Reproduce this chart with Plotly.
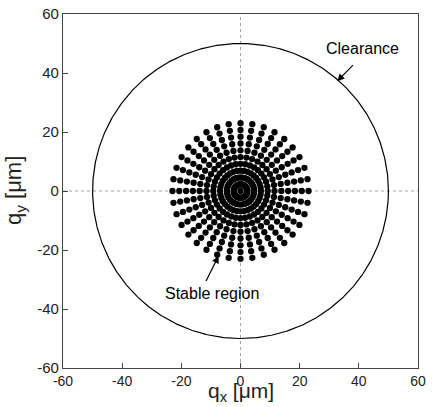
import numpy as np
import plotly.graph_objects as go

# Stable-region scan: amplitudes (µm) and launch angles (deg)
amplitudes = [2.3, 4.6, 6.9, 9.2, 11.5, 13.8, 16.1, 18.4, 20.7, 23.0]
angles_deg = [0, 10, 20, 30, 40, 50, 60, 70, 80, 90, 100, 110, 120, 130, 140, 150, 160, 170,
              180, 190, 200, 210, 220, 230, 240, 250, 260, 270, 280, 290, 300, 310, 320, 330, 340, 350]
center_point = [0.0, 0.0]
clearance_radius = 50.0
tick_vals = [-60, -40, -20, 0, 20, 40, 60]
tick_text = ["-60", "-40", "-20", "0", "20", "40", "60"]

xs = [center_point[0]]
ys = [center_point[1]]
for r in amplitudes:
    for a in angles_deg:
        t = np.deg2rad(a)
        xs.append(r * np.cos(t))
        ys.append(r * np.sin(t))

theta = np.linspace(0, 2 * np.pi, 721)
cx = clearance_radius * np.cos(theta)
cy = clearance_radius * np.sin(theta)

fig = go.Figure()
# dotted axes lines
fig.add_trace(go.Scatter(x=[-60, 60], y=[0, 0], mode="lines",
                         line=dict(color="#a0a0a0", width=1, dash="dot"), hoverinfo="skip"))
fig.add_trace(go.Scatter(x=[0, 0], y=[-60, 60], mode="lines",
                         line=dict(color="#a0a0a0", width=1, dash="dot"), hoverinfo="skip"))
fig.add_trace(go.Scatter(x=cx, y=cy, mode="lines", line=dict(color="black", width=1.2)))
fig.add_trace(go.Scatter(x=xs, y=ys, mode="markers",
                         marker=dict(color="black", size=6.3, line=dict(width=0))))

font_main = "Liberation Sans, Arial, sans-serif"
fig.add_annotation(x=32.7, y=37.2, ax=38.5, ay=43.2, xref="x", yref="y", axref="x", ayref="y",
                   text="", showarrow=True, arrowhead=2, arrowsize=1.2, arrowwidth=1.2, arrowcolor="black")
fig.add_annotation(x=41.2, y=48.3, text="Clearance", showarrow=False,
                   font=dict(family=font_main, size=16, color="black"))
fig.add_annotation(x=-7.4, y=-22.0, ax=-11.9, ay=-31.0, xref="x", yref="y", axref="x", ayref="y",
                   text="", showarrow=True, arrowhead=2, arrowsize=1.2, arrowwidth=1.2, arrowcolor="black")
fig.add_annotation(x=-9.5, y=-34.8, text="Stable region", showarrow=False,
                   font=dict(family=font_main, size=16, color="black"))

# axis titles
fig.add_annotation(x=0.5, y=0, xref="paper", yref="paper", xanchor="center", yanchor="bottom",
                   yshift=-39, text="q<sub>x</sub> [μm]", showarrow=False,
                   font=dict(family=font_main, size=21, color="#222"))
fig.add_annotation(x=0, y=0.5, xref="paper", yref="paper", xanchor="right", yanchor="middle",
                   xshift=-32, textangle=-90, text="q<sub>y</sub> [μm]", showarrow=False,
                   font=dict(family=font_main, size=22, color="#222"))

axis_common = dict(range=[-60, 60], tickvals=tick_vals, ticktext=tick_text, ticks="inside", ticklen=5,
                   tickcolor="#444", showline=True, linecolor="#444", linewidth=1.2,
                   mirror=True, showgrid=False, zeroline=False, automargin=False)
fig.update_xaxes(**axis_common, tickfont=dict(family=font_main, size=14, color="#222"))
fig.update_yaxes(**axis_common, tickfont=dict(family=font_main, size=15, color="#222"))
fig.update_layout(width=433, height=407, showlegend=False,
                  margin=dict(l=63, r=15, t=14, b=39),
                  plot_bgcolor="white", paper_bgcolor="white")
fig.write_html("out.html")
